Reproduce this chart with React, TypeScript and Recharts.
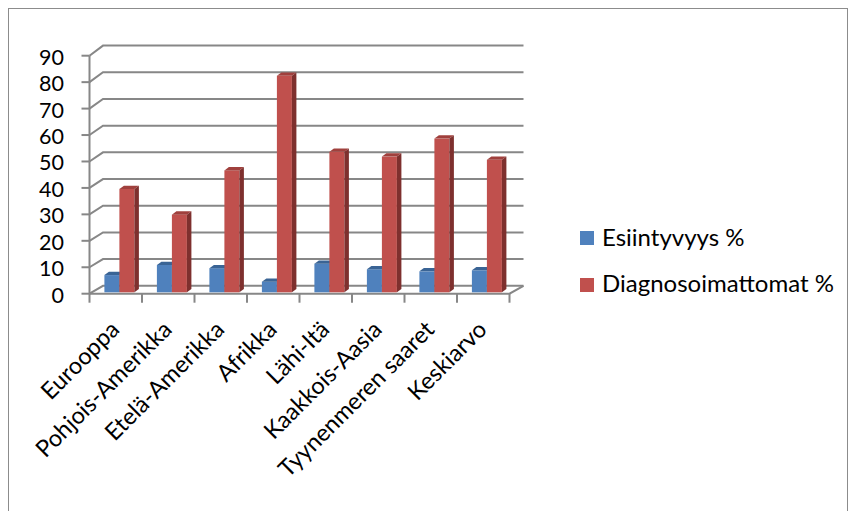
import React from 'react';
import { BarChart, Bar, XAxis, YAxis, CartesianGrid } from 'recharts';

const CATEGORIES = [
  'Eurooppa',
  'Pohjois-Amerikka',
  'Etelä-Amerikka',
  'Afrikka',
  'Lähi-Itä',
  'Kaakkois-Aasia',
  'Tyynenmeren saaret',
  'Keskiarvo',
];
const ESIINTYVYYS = [6.5, 10.3, 9.1, 4.0, 10.8, 8.7, 7.9, 8.3];
const DIAGNOSOIMATTOMAT = [39, 29.3, 46, 81.7, 53, 51.2, 58, 50];
const Y_TICKS = [0, 10, 20, 30, 40, 50, 60, 70, 80, 90];

const SERIES = [
  { key: 'esiintyvyys', name: 'Esiintyvyys %', front: '#4F81BD', top: '#3A6495', side: '#34577F' },
  { key: 'diagnosoimattomat', name: 'Diagnosoimattomat %', front: '#C0504D', top: '#A0403D', side: '#7E302E' },
];

const data = CATEGORIES.map((name, i) => ({
  name,
  esiintyvyys: ESIINTYVYYS[i],
  diagnosoimattomat: DIAGNOSOIMATTOMAT[i],
}));

// layout of the bar plane; walls and floor are drawn around it in pseudo-3D
const W = 857;
const H = 511;
const PLOT_LEFT = 93.5;
const PLOT_RIGHT = 513.5;
const PLOT_TOP = 53.8;
const PLOT_BOTTOM = 292.3;
const FONT = 'Lato, "Open Sans", sans-serif';
const FONT_SIZE = 21.5;
const GRID = '#878787';
const BAR_DX = 4.5;
const BAR_DY = 3.3;

const frac = (y: number) => (PLOT_BOTTOM - y) / (PLOT_BOTTOM - PLOT_TOP);
const frontY = (y: number) => y + 1.4 + 0.5 * frac(y);
const backY = (y: number) => y - 6.5 - 1.7 * frac(y);

const WallLine = (p: any) => {
  const y = p.y1;
  const fl = p.x1 - 4;
  const fr = p.x2 - 4;
  const bl = p.x1 + 9.5;
  const br = p.x2 + 10;
  const fy = frontY(y);
  const by = backY(y);
  const isFloor = Math.abs(y - PLOT_BOTTOM) < 0.5;
  const step = (fr - fl) / CATEGORIES.length;
  return (
    <g key={p.key}>
      <polyline points={`${fl},${fy} ${bl},${by} ${br},${by}`} fill="none" stroke={GRID} strokeWidth={2} />
      <line x1={fl - 8} y1={fy} x2={fl} y2={fy} stroke={GRID} strokeWidth={2} />
      {isFloor && (
        <g>
          <polyline points={`${fl},${fy} ${fr},${fy} ${br},${by}`} fill="none" stroke={GRID} strokeWidth={2} />
          <line x1={fl} y1={frontY(PLOT_TOP)} x2={fl} y2={fy} stroke={GRID} strokeWidth={2} />
          {CATEGORIES.map((_, i) => (
            <line key={i} x1={fl + step * i} y1={fy} x2={fl + step * i} y2={fy + 9} stroke={GRID} strokeWidth={2} />
          ))}
          <line x1={fr} y1={fy} x2={fr} y2={fy + 9} stroke={GRID} strokeWidth={2} />
        </g>
      )}
    </g>
  );
};

const Box3D = (p: any) => {
  const { x, y, width: w, height: h, colors } = p;
  if (!h || h <= 0) return null;
  return (
    <g>
      <rect x={x} y={y} width={w} height={h} fill={colors.front} />
      <polygon
        points={`${x},${y} ${x + BAR_DX},${y - BAR_DY} ${x + w + BAR_DX},${y - BAR_DY} ${x + w},${y}`}
        fill={colors.top}
      />
      <polygon
        points={`${x + w},${y} ${x + w + BAR_DX},${y - BAR_DY} ${x + w + BAR_DX},${y + h - BAR_DY} ${x + w},${y + h}`}
        fill={colors.side}
      />
    </g>
  );
};

const YTick = (p: any) => (
  <text x={64} y={frontY(p.y) + 9} textAnchor="end" fontFamily={FONT} fontSize={FONT_SIZE} fill="#000">
    {p.payload.value}
  </text>
);

const XTick = (p: any) => (
  <text
    x={p.x + 1}
    y={331}
    transform={`rotate(-45, ${p.x + 1}, 331)`}
    textAnchor="end"
    fontFamily={FONT}
    fontSize={23.5}
    fill="#000"
  >
    {p.payload.value}
  </text>
);

export default function App() {
  return (
    <div style={{ position: 'relative', width: W, height: H, overflow: 'hidden', background: '#fff' }}>
      <style>{'body{margin:0;overflow:hidden;}'}</style>
      <div
        style={{
          position: 'absolute',
          left: 8,
          top: 8,
          width: 840,
          height: 520,
          border: '1px solid #8c8c8c',
          boxSizing: 'border-box',
        }}
      />
      <div style={{ position: 'absolute', left: 0, top: 0 }}>
        <BarChart
          width={W}
          height={H}
          data={data}
          margin={{ top: PLOT_TOP, right: W - PLOT_RIGHT, bottom: 0, left: 0 }}
          barCategoryGap={10.9}
          barGap={0}
        >
          <CartesianGrid vertical={false} horizontal={WallLine} />
          <XAxis
            dataKey="name"
            height={H - PLOT_BOTTOM}
            axisLine={false}
            tickLine={false}
            interval={0}
            tick={XTick}
          />
          <YAxis
            width={PLOT_LEFT}
            domain={[0, 90]}
            ticks={Y_TICKS}
            axisLine={false}
            tickLine={false}
            tick={YTick}
          />
          {SERIES.map((s) => (
            <Bar
              key={s.key}
              dataKey={s.key}
              name={s.name}
              isAnimationActive={false}
              shape={(p: any) => <Box3D {...p} colors={s} />}
            />
          ))}
        </BarChart>
      </div>
      {SERIES.map((s, i) => (
        <React.Fragment key={s.key}>
          <div
            style={{
              position: 'absolute',
              left: 580,
              top: 231 + i * 46.7,
              width: 14,
              height: 14,
              background: s.front,
            }}
          />
          <div
            style={{
              position: 'absolute',
              left: 602,
              top: 222.5 + i * 46.7,
              lineHeight: '28px',
              fontFamily: FONT,
              fontSize: 24,
              color: '#000',
              whiteSpace: 'nowrap',
            }}
          >
            {s.name}
          </div>
        </React.Fragment>
      ))}
    </div>
  );
}
